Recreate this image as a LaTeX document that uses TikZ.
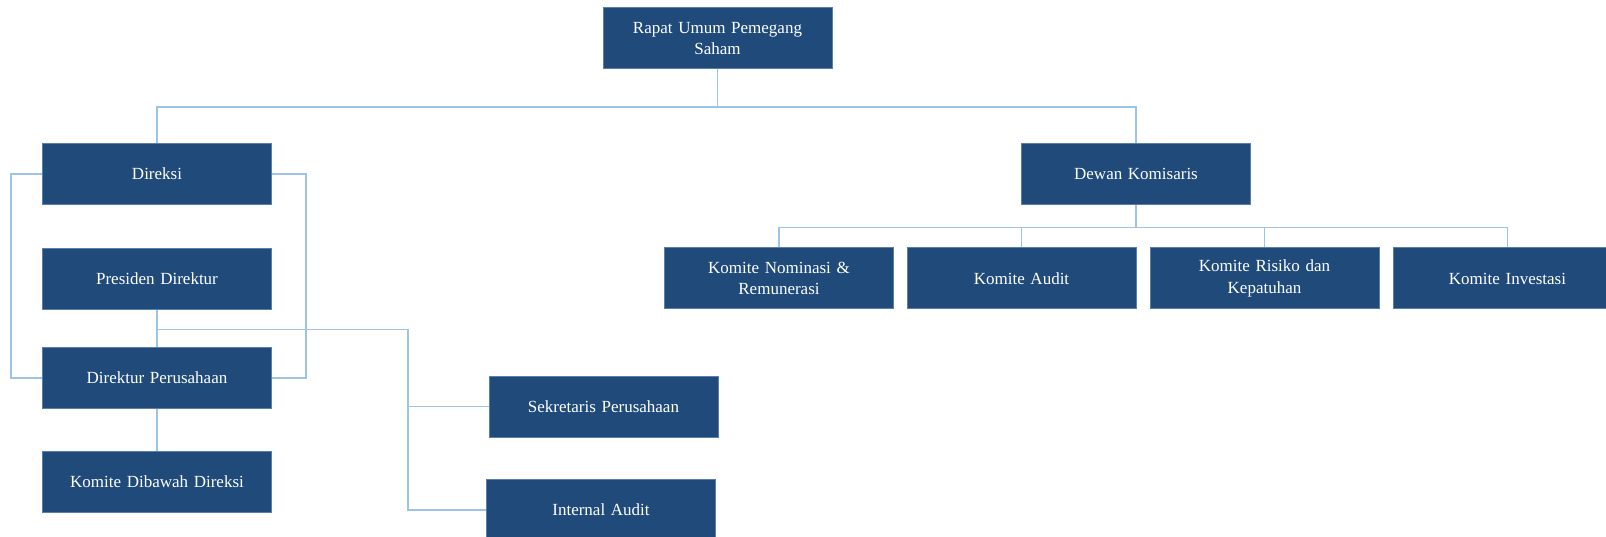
\documentclass[tikz,border=0pt]{standalone}
\usepackage{fontspec}
\setmainfont{Liberation Serif}
\definecolor{boxfill}{RGB}{31,74,121}
\definecolor{boxedge}{RGB}{88,128,170}
\definecolor{wire}{RGB}{157,195,230}
\begin{document}
\begin{tikzpicture}[x=1pt,y=-1pt,
  orgbox/.style={rectangle, fill=boxfill, draw=boxedge, line width=1pt,
    minimum width=229pt, minimum height=61pt, inner sep=0pt,
    text=white, align=center, text width=220pt,
    font=\fontsize{17}{21.5}\selectfont},
  link/.style={draw=wire, line width=1.5pt}]
\useasboundingbox (0,0) rectangle (1606,537);
\clip (0,0) rectangle (1606,537);

% top level
\node[orgbox] (rups) at (717.5,38.5) {Rapat Umum Pemegang\\Saham};

% board of directors branch
\node[orgbox] (direksi)  at (157,174) {Direksi};
\node[orgbox] (presdir)  at (157,279) {Presiden Direktur};
\node[orgbox] (dirper)   at (157,378) {Direktur Perusahaan};
\node[orgbox] (komdir)   at (157,482) {Komite Dibawah Direksi};
\node[orgbox] (sekper)   at (603.5,406.5) {Sekretaris Perusahaan};
\node[orgbox] (intaudit) at (601,510) {Internal Audit};

% board of commissioners branch
\node[orgbox] (dekom) at (1136,174) {Dewan Komisaris};
\node[orgbox] (knr)   at (779,278.5) {Komite Nominasi \&\\Remunerasi};
\node[orgbox] (kaud)  at (1021.5,278.5) {Komite Audit};
\node[orgbox] (krk)   at (1264.5,278.5) {Komite Risiko dan\\Kepatuhan};
\node[orgbox] (kinv)  at (1507.5,278.5) {Komite Investasi};

% junction points
\coordinate (topbus) at (717.5,107);
\coordinate (subbus) at (1136,227.5);
\coordinate (pdbus)  at (157,329.5);
\coordinate (spine)  at (408,329.5);

% RUPS to both boards
\draw[link] (rups.south) -- (topbus);
\draw[link] (direksi.north) |- (topbus) -| (dekom.north);

% Direksi bracket around its members
\draw[link] (direksi.west) -- ++(-31,0) |- (dirper.west);
\draw[link] (direksi.east) -- ++(34,0) |- (dirper.east);

% Presiden Direktur chain
\draw[link] (presdir.south) -- (dirper.north);
\draw[link] (pdbus) -- (spine) |- (intaudit.west);
\draw[link] (spine |- sekper.west) -- (sekper.west);
\draw[link] (dirper.south) -- (komdir.north);

% committees under Dewan Komisaris
\draw[link] (dekom.south) -- (subbus);
\draw[link] (knr.north) |- (subbus) -| (kinv.north);
\draw[link] (kaud.north) -- (kaud.north |- subbus);
\draw[link] (krk.north) -- (krk.north |- subbus);
\end{tikzpicture}
\end{document}
